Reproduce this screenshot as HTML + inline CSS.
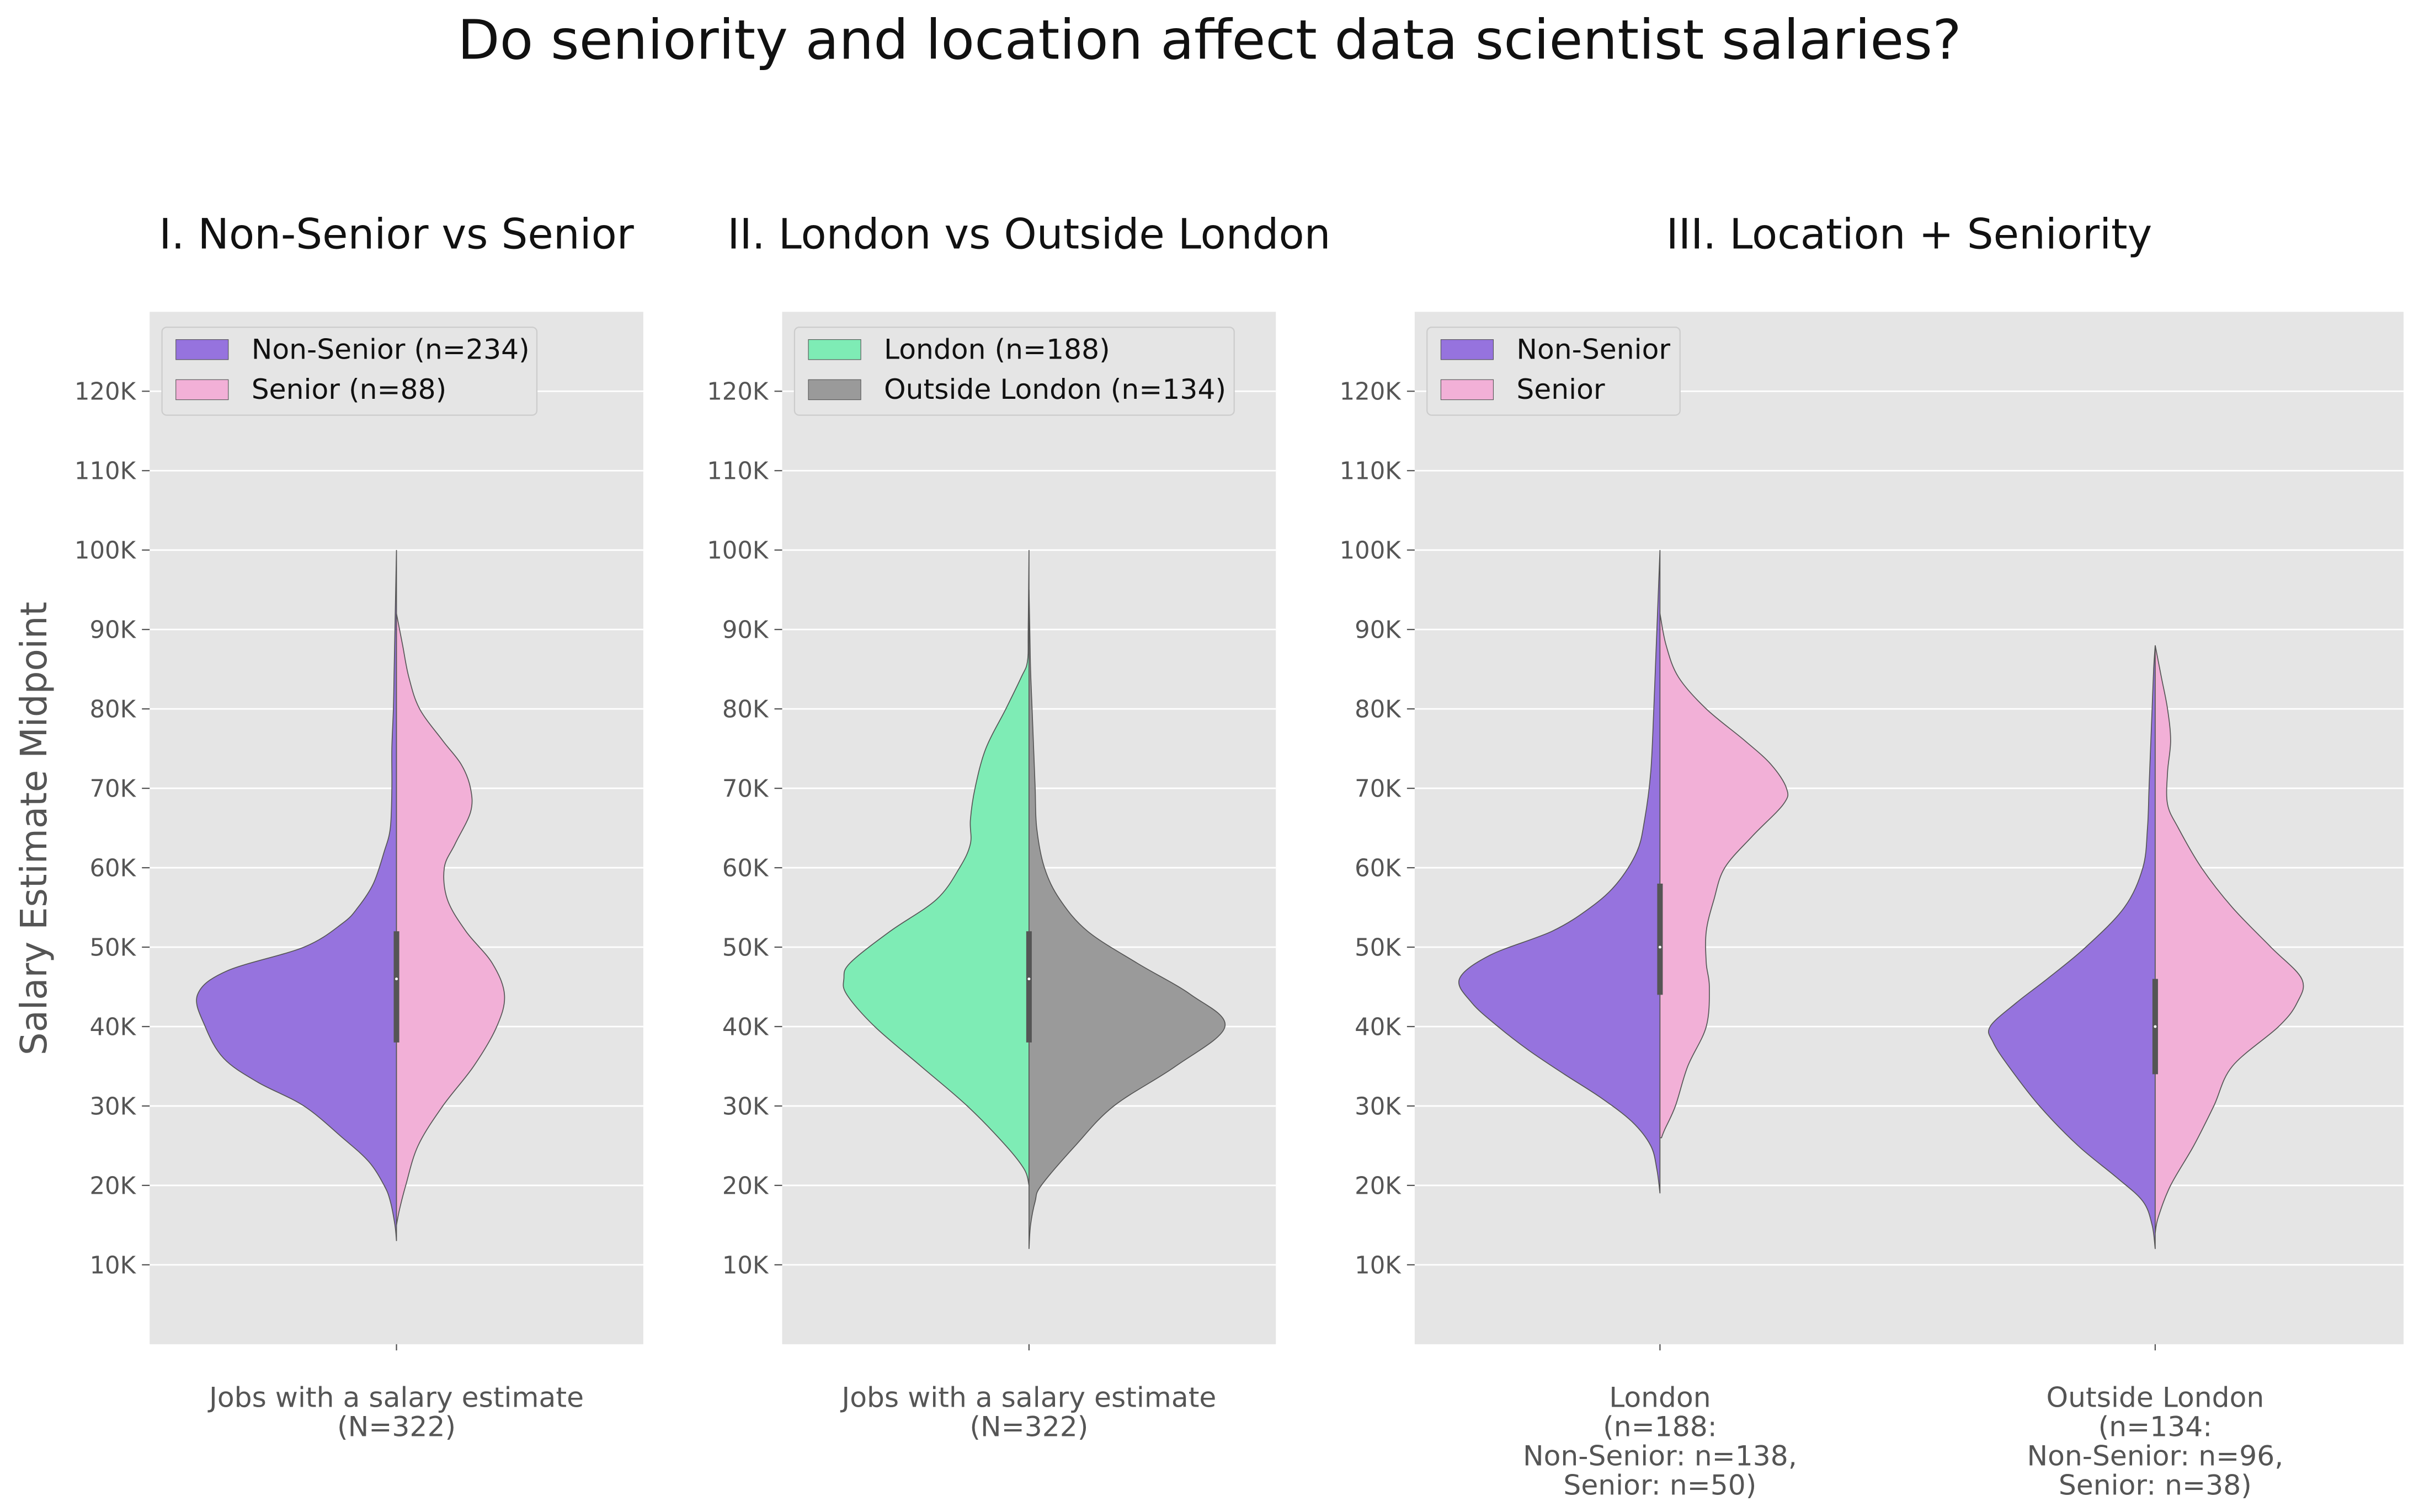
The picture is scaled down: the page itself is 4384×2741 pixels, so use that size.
<!DOCTYPE html>
<html><head><meta charset="utf-8"><style>
body{margin:0;background:#fff}
svg{display:block;font-family:"DejaVu Sans","Liberation Sans",sans-serif}
</style></head><body>
<svg id="chart" width="4384" height="2741" viewBox="0 0 1568 980" xmlns="http://www.w3.org/2000/svg">
<rect width="1568" height="980" fill="#fff"/>
<text x="784" y="38" font-size="35.5" text-anchor="middle" fill="#111">Do seniority and location affect data scientist salaries?</text>
<text x="0" y="0" transform="translate(30,537) rotate(-90)" font-size="23.5" text-anchor="middle" fill="#555">Salary Estimate Midpoint</text>
<g id="plots"></g>
</svg>
<script>
// ---- data ----
const yTicks = [10,20,30,40,50,60,70,80,90,100,110,120];
const p1NonSal = [13,15,18,20,23,26,30,33,36,40,44,47,50,53,55,58,62,65,70,75,80,85,90,95,100];
const p1NonW   = [0,1,4,8,18,35,60,90,112,124,129,110,60,35,25,15,8,4,3,3,2,1.5,1,0.5,0];
const p1SenSal = [15,17,20,25,30,35,40,44,48,52,56,60,63,67,70,73,76,80,84,88,92];
const p1SenW   = [0,2,6,14,30,50,65,70,62,45,33,31,38,48,48,42,30,15,8,4,0];
const p2LonSal = [20,22,25,30,35,40,44,46,48,52,56,60,63,66,70,75,80,84,86,90,100];
const p2LonW   = [0,3,15,40,70,100,118,120,116,90,60,45,38,38,35,28,15,5,1,0.5,0];
const p2OutSal = [12,15,18,20,25,30,35,40,44,48,52,56,60,65,70,75,80,85,90,95];
const p2OutW   = [0,1,4,8,30,55,95,127,105,70,38,20,10,5,4,3,2,1,0.5,0];
const p3LNSal = [19,22,25,28,31,34,37,40,43,46,49,52,55,58,62,66,72,80,85,90,95,100];
const p3LNW   = [0,2,6,18,38,62,85,105,122,130,110,70,45,28,15,10,6,4,3,2,1,0];
const p3LSSal = [26,27,30,35,40,45,48,52,56,60,64,68,70,73,76,80,84,88,92];
const p3LSW   = [1,3,10,18,30,32,30,30,35,42,60,80,82,72,55,30,12,4,0];
const p3ONSal = [12,15,18,21,25,30,35,38,40,43,46,50,55,60,65,70,75,80,85,88];
const p3ONW   = [0,2,8,25,50,75,95,105,107,90,70,45,20,8,5,4,3,2,1,0];
const p3OSSal = [14,16,20,25,30,35,40,43,46,50,55,60,65,68,72,76,80,84,88];
const p3OSW   = [0,2,10,25,38,50,80,92,95,75,50,30,15,8,8,10,8,4,0];
const boxes = {p1:[38,46,52],p2:[38,46,52],p3L:[44,50,58],p3O:[34,40,46]};

// ---- helpers ----
const NS="http://www.w3.org/2000/svg";
const root=document.getElementById('plots');
const Y0=871.4, Y1=202, YMAX=130;
function ys(v){return Y0-(v/YMAX)*(Y0-Y1);}
function el(tag,attrs,parent){const e=document.createElementNS(NS,tag);for(const k in attrs)e.setAttribute(k,attrs[k]);(parent||root).appendChild(e);return e;}
function smoothPts(pts){
  let d="M"+pts[0][0]+","+pts[0][1];
  for(let i=0;i<pts.length-1;i++){
    const p0=pts[i-1]||pts[i],p1=pts[i],p2=pts[i+1],p3=pts[i+2]||p2;
    const c1=[p1[0]+(p2[0]-p0[0])/6,p1[1]+(p2[1]-p0[1])/6];
    const c2=[p2[0]-(p3[0]-p1[0])/6,p2[1]-(p3[1]-p1[1])/6];
    d+=` C${c1[0]},${c1[1]} ${c2[0]},${c2[1]} ${p2[0]},${p2[1]}`;
  }
  return d;
}
function half(g,cx,sal,w,side,fill,name){
  const pts=sal.map((s,i)=>[cx+side*w[i],ys(s)]);
  let d=smoothPts(pts)+` L${cx},${ys(sal[sal.length-1])} L${cx},${ys(sal[0])} Z`;
  const p=el('path',{d:d,fill:fill,stroke:'#555','stroke-width':0.6},g);
  
  
}
function box(g,cx,b){
  const r=el('rect',{x:cx-1.8,y:ys(b[2]),width:3.6,height:ys(b[0])-ys(b[2]),fill:'#555'},g);
  
  
  el('circle',{cx:cx,cy:ys(b[1]),r:0.9,fill:'#fff'},g);
}
function axes(x0,x1,title,name){
  const g=el('g',{});
  
  
  el('rect',{x:x0,y:Y1,width:x1-x0,height:Y0-Y1,fill:'#e5e5e5'},g);
  yTicks.forEach(v=>{
    const yy=ys(v);
    el('line',{x1:x0,x2:x1,y1:yy,y2:yy,stroke:'#fff','stroke-width':1},g);
    el('line',{x1:x0-5,x2:x0,y1:yy,y2:yy,stroke:'#555','stroke-width':0.8},g);
    const t=el('text',{x:x0-9,y:yy+5.5,'font-size':15.5,'text-anchor':'end',fill:'#555'},g);
    t.textContent=v+'K';
    
    
  });
  const t=el('text',{x:(x0+x1)/2,y:161,'font-size':27,'text-anchor':'middle',fill:'#111'},g);
  t.textContent=title;
  
  
  return g;
}
function xlabel(g,cx,lines){
  el('line',{x1:cx,x2:cx,y1:Y0,y2:Y0+4,stroke:'#555','stroke-width':0.8},g);
  lines.forEach((s,i)=>{
    const t=el('text',{x:cx,y:912+i*19,'font-size':18,'text-anchor':'middle',fill:'#555'},g);
    t.textContent=s;
    
    
  });
}
function legend(g,x,w,items){
  const lg=el('g',{},g);
  
  
  el('rect',{x:x,y:212,width:w,height:57,rx:3,fill:'#e5e5e5',stroke:'#ccc','stroke-width':0.8},lg);
  items.forEach((it,i)=>{
    const yy=220+i*26;
    el('rect',{x:x+9,y:yy,width:34,height:13,fill:it[1],stroke:'#555','stroke-width':0.4},lg);
    const t=el('text',{x:x+58,y:yy+12.5,'font-size':18,fill:'#111'},lg);
    t.textContent=it[0];
    
    
  });
}
const PUR='#9673de',PINK='#f2b0d7',GRN='#7eecb5',GRY='#9a9a9a';
// Panel 1
let g=axes(97,417,'I. Non-Senior vs Senior','panel-seniority');
half(g,257,p1NonSal,p1NonW,-1,PUR,'violin-non-senior');
half(g,257,p1SenSal,p1SenW,1,PINK,'violin-senior');
box(g,257,boxes.p1);
xlabel(g,257,['Jobs with a salary estimate','(N=322)']);
legend(g,105,243,[['Non-Senior (n=234)',PUR],['Senior (n=88)',PINK]]);
// Panel 2
g=axes(507,827,'II. London vs Outside London','panel-location');
half(g,667,p2LonSal,p2LonW,-1,GRN,'violin-london');
half(g,667,p2OutSal,p2OutW,1,GRY,'violin-outside-london');
box(g,667,boxes.p2);
xlabel(g,667,['Jobs with a salary estimate','(N=322)']);
legend(g,515,285,[['London (n=188)',GRN],['Outside London (n=134)',GRY]]);
// Panel 3
g=axes(917,1558,'III. Location + Seniority','panel-location-seniority');
half(g,1076,p3LNSal,p3LNW,-1,PUR,'violin-london-non-senior');
half(g,1076,p3LSSal,p3LSW,1,PINK,'violin-london-senior');
box(g,1076,boxes.p3L);
half(g,1397,p3ONSal,p3ONW,-1,PUR,'violin-outside-non-senior');
half(g,1397,p3OSSal,p3OSW,1,PINK,'violin-outside-senior');
box(g,1397,boxes.p3O);
xlabel(g,1076,['London','(n=188:','Non-Senior: n=138,','Senior: n=50)']);
xlabel(g,1397,['Outside London','(n=134:','Non-Senior: n=96,','Senior: n=38)']);
legend(g,925,164,[['Non-Senior',PUR],['Senior',PINK]]);
</script>
</body></html>
